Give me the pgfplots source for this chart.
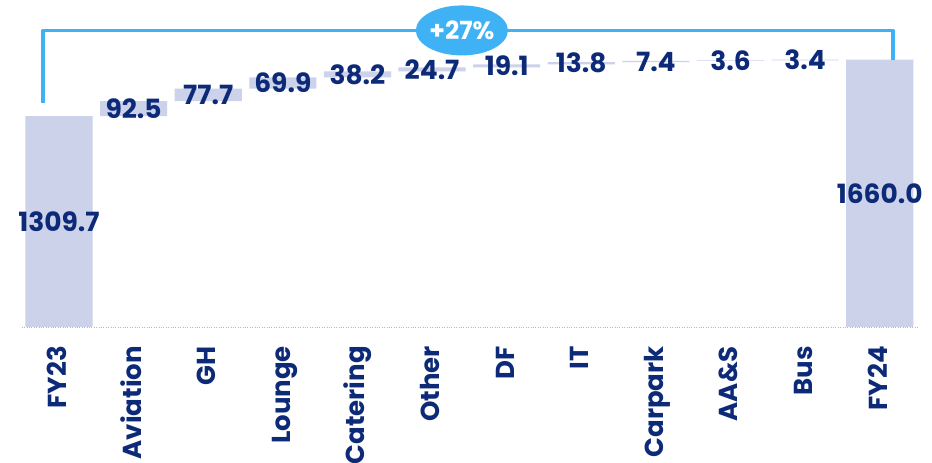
\documentclass[border=0pt]{standalone}
\usepackage{pgfplots}
\pgfplotsset{compat=1.18}
\usepackage{pgfplotstable}
\usetikzlibrary{shapes.geometric}
\usepackage{fontspec}
\setmainfont{Poppins}

\definecolor{navy}{HTML}{0D2A78}
\definecolor{barfill}{HTML}{CBD2EA}
\definecolor{bracket}{HTML}{3FB2F5}

\newcommand\valfont{\bfseries\fontsize{26.5}{26.5}\selectfont}
\newcommand\catfont{\bfseries\fontsize{26}{26}\selectfont}

% revenue bridge: base = running total before the step, delta = step height
\pgfplotstableread{
x base delta
0 0 1309.7
1 1309.7 92.5
2 1402.2 77.7
3 1479.9 69.9
4 1549.8 38.2
5 1588.0 24.7
6 1612.7 19.1
7 1631.8 13.8
8 1645.6 7.4
9 1653.0 3.6
10 1656.6 3.4
11 0 1660.0
}\bridge

\pgfplotsset{
  bridgeaxis/.style={
    at={(21.7pt,136pt)}, anchor=south west,
    scale only axis, width=895.3pt, height=322pt,
    xmin=-0.5, xmax=11.5, ymin=0, ymax=2000,
    clip=false,
  },
}

\begin{document}
\begin{tikzpicture}
% bars
\begin{axis}[bridgeaxis,
  ybar stacked, bar width=0.9,
  axis x line*=bottom, axis y line=none,
  x axis line style={-, draw=gray!55, dotted, thin},
  xtick={0,...,11},
  xticklabels={FY23,Aviation,GH,Lounge,Catering,Other,DF,IT,Carpark,AA\&S,Bus,FY24},
  major tick length=0pt,
  xticklabel style={yshift=-19pt, xshift=4pt, rotate=90, anchor=east, text=navy, font=\catfont,
    text height=0.7em, text depth=0pt, inner sep=0pt},
]
\addplot[draw=none, fill=none] table[x=x, y=base]{\bridge};
\addplot[draw=none, fill=barfill] table[x=x, y=delta]{\bridge};
\end{axis}
% value labels and growth bracket
\begin{axis}[bridgeaxis, axis lines=none]
\addplot[draw=none, mark=none, nodes near coords, point meta=explicit,
  nodes near coords style={anchor=center, text=navy, font=\valfont,
    /pgf/number format/.cd, fixed, fixed zerofill, precision=1,
    1000 sep={}, assume math mode=true}]
  table[x=x, y expr=\thisrow{base}+0.5*\thisrow{delta}, meta=delta]{\bridge};
\draw[bracket, line width=3.5pt, line join=round]
  (axis cs:-0.214,1390) -- (axis cs:-0.214,1842) -- (axis cs:11.18,1842) -- (axis cs:11.18,1656);
\node[ellipse, fill=bracket, minimum width=90pt, minimum height=50pt, inner sep=0pt,
  text=white, font=\bfseries\fontsize{25}{25}\selectfont]
  at (axis cs:5.40,1842) {+27\%};
\end{axis}
\pgfresetboundingbox
\path[use as bounding box] (0,0) rectangle (932pt,463pt);
\end{tikzpicture}
\end{document}
